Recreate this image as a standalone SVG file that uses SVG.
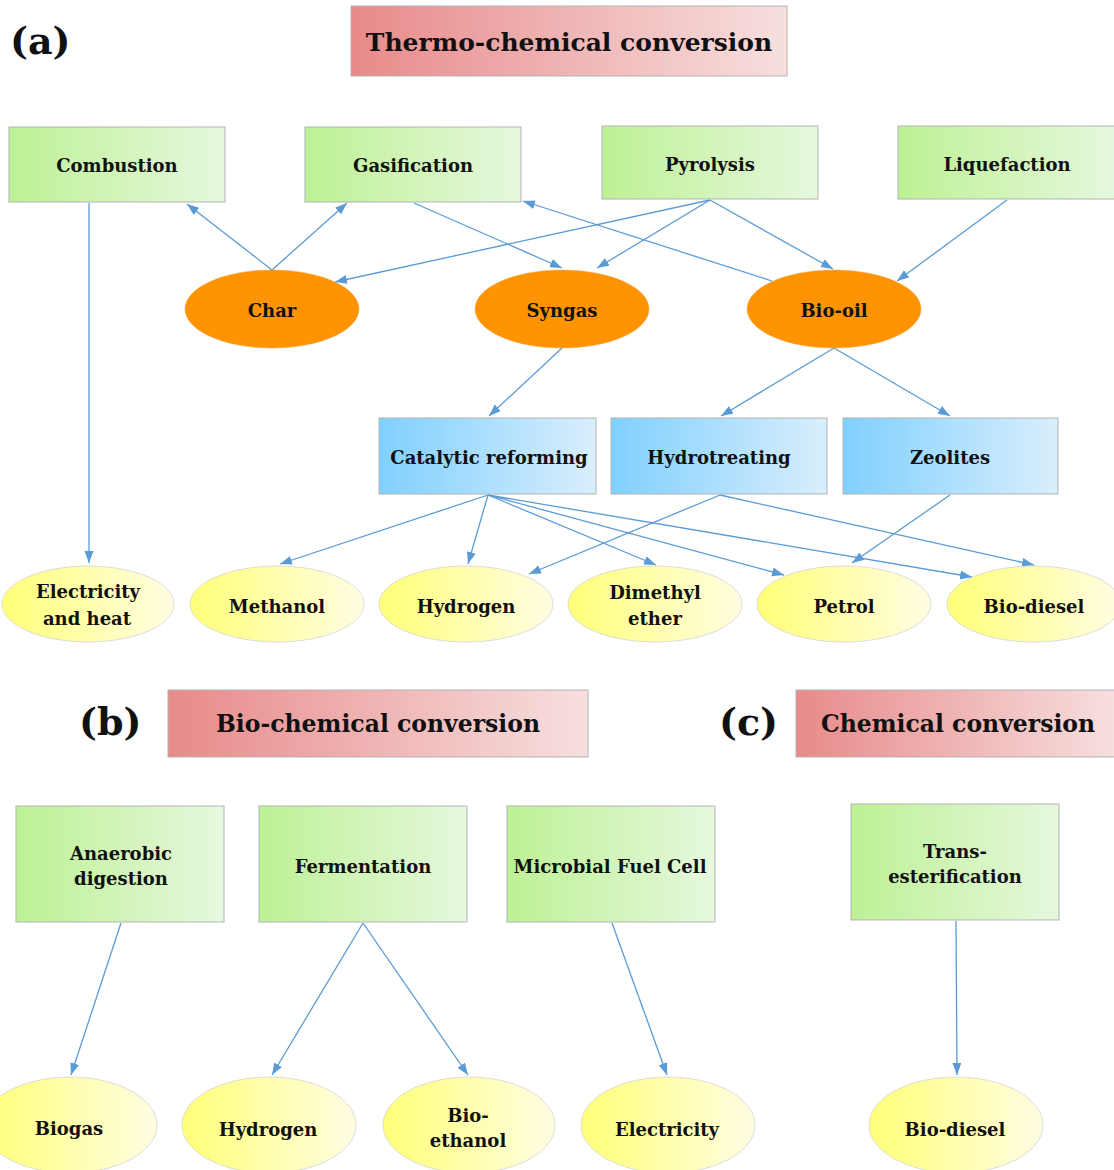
<svg xmlns="http://www.w3.org/2000/svg" width="1114" height="1170" viewBox="0 0 1114 1170">
<defs>
<linearGradient id="gRed" x1="0" y1="0" x2="1" y2="0"><stop offset="0" stop-color="#e88a8a"/><stop offset="1" stop-color="#f7dfdf"/></linearGradient>
<linearGradient id="gGreen" x1="0" y1="0" x2="1" y2="0"><stop offset="0" stop-color="#bdf195"/><stop offset="1" stop-color="#e6f8de"/></linearGradient>
<linearGradient id="gBlue" x1="0" y1="0" x2="1" y2="0"><stop offset="0" stop-color="#80d0ff"/><stop offset="1" stop-color="#d9eefc"/></linearGradient>
<linearGradient id="gYellow" x1="0" y1="0" x2="1" y2="0"><stop offset="0" stop-color="#ffff78"/><stop offset="1" stop-color="#fffde2"/></linearGradient>
<marker id="arr" markerUnits="userSpaceOnUse" markerWidth="13" markerHeight="10" refX="12" refY="4.5" orient="auto"><path d="M0,0 L12,4.5 L0,9 z" fill="#5b9bd5"/></marker>
</defs>
<style>
text{font-family:"DejaVu Serif","Liberation Serif",serif;font-weight:bold;fill:#111;text-anchor:middle;dominant-baseline:central}
.t{font-size:18px}
.h{font-size:25px}
.h2{font-size:23.5px}
.lab{font-size:38px;text-anchor:start}
.red{fill:url(#gRed);stroke:#b3b3b3;stroke-width:1}
.grn{fill:url(#gGreen);stroke:#b3b3b3;stroke-width:1}
.blu{fill:url(#gBlue);stroke:#b3b3b3;stroke-width:1}
.yel{fill:url(#gYellow);stroke:#d4d4d4;stroke-width:0.8}
.org{fill:#ff9300;stroke:#f0a040;stroke-width:0.5}
.c{stroke:#5b9bd5;stroke-width:1.3;fill:none;marker-end:url(#arr)}
</style>

<text class="lab" x="10" y="40">(a)</text>
<text class="lab" x="79" y="721">(b)</text>
<text class="lab" x="719" y="721">(c)</text>

<g id="title-thermo"><rect class="red" x="351" y="6" width="436" height="70"/><text class="h" x="569" y="42">Thermo-chemical conversion</text></g>
<g id="title-bio"><rect class="red" x="168" y="690" width="420" height="67"/><text class="h2" x="378" y="724">Bio-chemical conversion</text></g>
<g id="title-chem"><rect class="red" x="796" y="690" width="320" height="67"/><text class="h2" x="958" y="724">Chemical conversion</text></g>

<g id="connectors">
<line class="c" x1="89" y1="203" x2="89" y2="563"/>
<line class="c" x1="272" y1="270" x2="187" y2="204"/>
<line class="c" x1="272" y1="270" x2="347" y2="203"/>
<line class="c" x1="710" y1="200" x2="335" y2="282"/>
<line class="c" x1="710" y1="200" x2="597" y2="268"/>
<line class="c" x1="710" y1="200" x2="833" y2="269"/>
<line class="c" x1="414" y1="203" x2="562" y2="268"/>
<line class="c" x1="772" y1="281" x2="523" y2="201"/>
<line class="c" x1="1007" y1="200" x2="897" y2="281"/>
<line class="c" x1="562" y1="348" x2="489" y2="416"/>
<line class="c" x1="834" y1="348" x2="721" y2="416"/>
<line class="c" x1="834" y1="348" x2="950" y2="416"/>
<line class="c" x1="488" y1="495" x2="280" y2="564"/>
<line class="c" x1="488" y1="495" x2="468" y2="564"/>
<line class="c" x1="488" y1="495" x2="656" y2="565"/>
<line class="c" x1="488" y1="495" x2="784" y2="575"/>
<line class="c" x1="488" y1="495" x2="972" y2="577"/>
<line class="c" x1="720" y1="495" x2="529" y2="574"/>
<line class="c" x1="720" y1="495" x2="1034" y2="565"/>
<line class="c" x1="950" y1="495" x2="852" y2="563"/>
<line class="c" x1="121" y1="923" x2="71" y2="1075"/>
<line class="c" x1="363" y1="923" x2="272" y2="1075"/>
<line class="c" x1="363" y1="923" x2="468" y2="1075"/>
<line class="c" x1="612" y1="923" x2="667" y2="1075"/>
<line class="c" x1="956" y1="921" x2="957" y2="1075"/>
</g>

<g id="combustion"><rect class="grn" x="9" y="127" width="216" height="75"/><text class="t" x="117" y="165">Combustion</text></g>
<g id="gasification"><rect class="grn" x="305" y="127" width="216" height="75"/><text class="t" x="413" y="165">Gasification</text></g>
<g id="pyrolysis"><rect class="grn" x="602" y="126" width="216" height="73"/><text class="t" x="710" y="164">Pyrolysis</text></g>
<g id="liquefaction"><rect class="grn" x="898" y="126" width="218" height="73"/><text class="t" x="1007" y="164">Liquefaction</text></g>

<g id="char"><ellipse class="org" cx="272" cy="309" rx="87" ry="39"/><text class="t" x="272" y="310">Char</text></g>
<g id="syngas"><ellipse class="org" cx="562" cy="309" rx="87" ry="39"/><text class="t" x="562" y="310">Syngas</text></g>
<g id="bio-oil"><ellipse class="org" cx="834" cy="309" rx="87" ry="39"/><text class="t" x="834" y="310">Bio-oil</text></g>

<g id="catalytic-reforming"><rect class="blu" x="379" y="418" width="217" height="76"/><text class="t" x="489" y="457">Catalytic reforming</text></g>
<g id="hydrotreating"><rect class="blu" x="611" y="418" width="216" height="76"/><text class="t" x="719" y="457">Hydrotreating</text></g>
<g id="zeolites"><rect class="blu" x="843" y="418" width="215" height="76"/><text class="t" x="950" y="457">Zeolites</text></g>

<g id="electricity-heat"><ellipse class="yel" cx="88" cy="604" rx="86" ry="38"/><text class="t" x="88" y="591">Electricity</text><text class="t" x="87" y="618">and heat</text></g>
<g id="methanol"><ellipse class="yel" cx="277" cy="604" rx="87" ry="38"/><text class="t" x="277" y="606">Methanol</text></g>
<g id="hydrogen-a"><ellipse class="yel" cx="466" cy="604" rx="87" ry="38"/><text class="t" x="466" y="606">Hydrogen</text></g>
<g id="dimethyl-ether"><ellipse class="yel" cx="655" cy="604" rx="87" ry="38"/><text class="t" x="655" y="592">Dimethyl</text><text class="t" x="655" y="618">ether</text></g>
<g id="petrol"><ellipse class="yel" cx="844" cy="604" rx="87" ry="38"/><text class="t" x="844" y="606">Petrol</text></g>
<g id="bio-diesel-a"><ellipse class="yel" cx="1034" cy="604" rx="87" ry="38"/><text class="t" x="1034" y="606">Bio-diesel</text></g>

<g id="anaerobic"><rect class="grn" x="16" y="806" width="208" height="116"/><text class="t" x="121" y="853">Anaerobic</text><text class="t" x="121" y="878">digestion</text></g>
<g id="fermentation"><rect class="grn" x="259" y="806" width="208" height="116"/><text class="t" x="363" y="866">Fermentation</text></g>
<g id="mfc"><rect class="grn" x="507" y="806" width="208" height="116"/><text class="t" x="610" y="866">Microbial Fuel Cell</text></g>
<g id="trans"><rect class="grn" x="851" y="804" width="208" height="116"/><text class="t" x="955" y="851">Trans-</text><text class="t" x="955" y="876">esterification</text></g>

<g id="biogas"><ellipse class="yel" cx="70" cy="1125" rx="87" ry="48"/><text class="t" x="69" y="1128">Biogas</text></g>
<g id="hydrogen-b"><ellipse class="yel" cx="269" cy="1125" rx="87" ry="48"/><text class="t" x="268" y="1129">Hydrogen</text></g>
<g id="bio-ethanol"><ellipse class="yel" cx="469" cy="1125" rx="86" ry="48"/><text class="t" x="468" y="1115">Bio-</text><text class="t" x="468" y="1140">ethanol</text></g>
<g id="electricity"><ellipse class="yel" cx="668" cy="1125" rx="87" ry="48"/><text class="t" x="667" y="1129">Electricity</text></g>
<g id="bio-diesel-c"><ellipse class="yel" cx="956" cy="1125" rx="87" ry="48"/><text class="t" x="955" y="1129">Bio-diesel</text></g>
</svg>
